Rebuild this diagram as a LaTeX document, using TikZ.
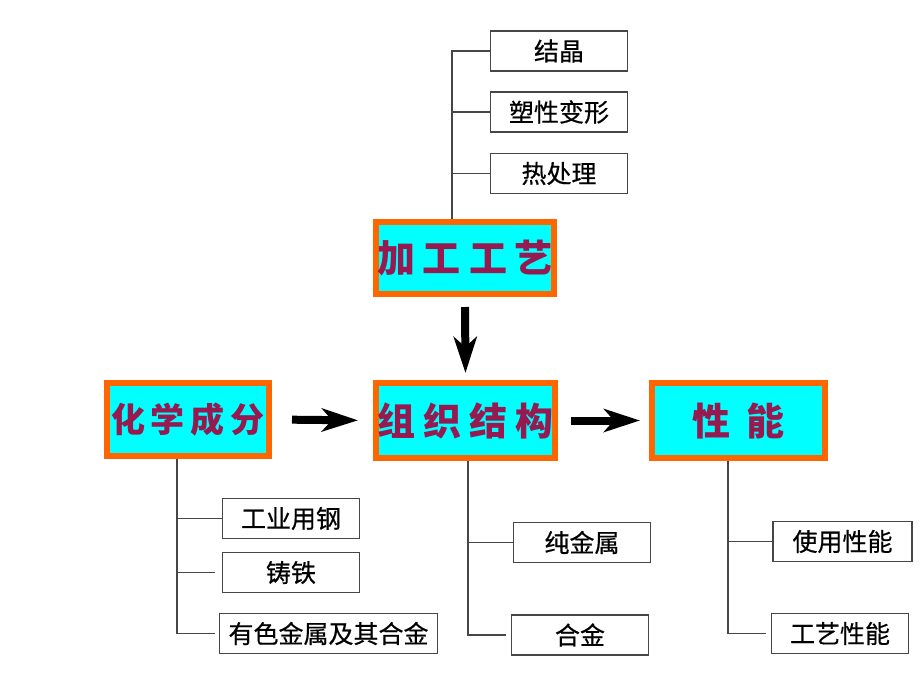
\documentclass[tikz,border=0pt]{standalone}
\usepackage{fontspec}
\usetikzlibrary{arrows.meta}
\newfontfamily\cjk{Noto Sans CJK SC}
\newfontfamily\cjksub[FakeBold=0.5]{Noto Sans CJK SC}
\definecolor{boxorange}{RGB}{255,102,0}
\definecolor{boxcyan}{RGB}{0,255,255}
\definecolor{titlered}{RGB}{150,25,80}
\definecolor{thinline}{RGB}{70,70,70}
\tikzset{
  mainbox/.style={draw=boxorange, fill=boxcyan, line width=6pt, inner sep=0pt, outer sep=3pt,
    minimum height=73pt, text=titlered, font=\cjk\bfseries\fontsize{38}{40}\selectfont},
  subbox/.style={draw=thinline, line width=1.4pt, inner sep=0pt, outer sep=0.7pt,
    minimum width=137pt, minimum height=40pt, font=\cjksub\fontsize{25}{27}\selectfont},
  conn/.style={draw=thinline, line width=1.2pt},
  bigarrow/.style={line width=8pt, -{Stealth[length=36pt,width=23pt,inset=10pt]}},
}
\begin{document}
\begin{tikzpicture}[x=1pt,y=-1pt]
\useasboundingbox (0,0) rectangle (920,690);
\fill[white] (0,0) rectangle (920,690);
% main boxes
\node[mainbox, minimum width=178pt, minimum height=72pt] (jg) at (465,258) {加\hspace{8pt}工\hspace{8pt}工\hspace{8pt}艺};
\node[mainbox, minimum width=179pt, minimum height=75pt] (zz) at (465.5,420.5) {组\hspace{8pt}织\hspace{8pt}结\hspace{8pt}构};
\node[mainbox, minimum width=162pt, minimum height=73pt, font=\cjk\bfseries\fontsize{34}{36}\selectfont] (hx) at (188,419.5) {化\hspace{6pt}学\hspace{6pt}成\hspace{6pt}分};
\node[mainbox, minimum width=173pt, minimum height=75pt] (xn) at (738.5,420.5) {性\hspace{16pt}能};
% sub boxes
\node[subbox] (jj) at (559,51) {结晶};
\node[subbox] (sx) at (559,112) {塑性变形};
\node[subbox] (rcl) at (559,173.5) {热处理};
\node[subbox] (gy) at (291,518.5) {工业用钢};
\node[subbox] (zt) at (291,572.5) {铸铁};
\node[subbox, minimum width=218pt] (ys) at (328.5,633.5) {有色金属及其合金};
\node[subbox] (cj) at (582,542.5) {纯金属};
\node[subbox] (hj) at (580,635) {合金};
\node[subbox, minimum width=139pt] (sy) at (842.5,541.5) {使用性能};
\node[subbox] (gyx) at (840,633.5) {工艺性能};
% trunk coordinates
\coordinate (tt) at (452,0);
\coordinate (tl) at (177,0);
\coordinate (tm) at (468,0);
\coordinate (tr) at (728,0);
% top tree
\draw[conn] (tt |- jg.north) |- (jj.west);
\draw[conn] (tt |- sx.west) -- (sx.west);
\draw[conn] (tt |- rcl.west) -- (rcl.west);
% left tree
\draw[conn] (tl |- hx.south) |- ([xshift=-4pt]ys.west);
\draw[conn] (tl |- gy.west) -- (gy.west);
\draw[conn] (tl |- zt.west) -- ([xshift=-7pt]zt.west);
% middle tree
\draw[conn] (tm |- zz.south) |- ([xshift=-5pt]hj.west);
\draw[conn] (tm |- cj.west) -- (cj.west);
% right tree
\draw[conn] (tr |- xn.south) |- ([xshift=-5pt]gyx.west);
\draw[conn] (tr |- sy.west) -- (sy.west);
% big arrows
\draw[bigarrow, shorten <=10pt, shorten >=7pt] (jg.south) -- (zz.north);
\draw[bigarrow, shorten <=20pt, shorten >=15pt] (hx.east) -- (zz.west);
\draw[bigarrow, shorten <=13pt, shorten >=9pt] (zz.east) -- (xn.west);
\end{tikzpicture}
\end{document}
